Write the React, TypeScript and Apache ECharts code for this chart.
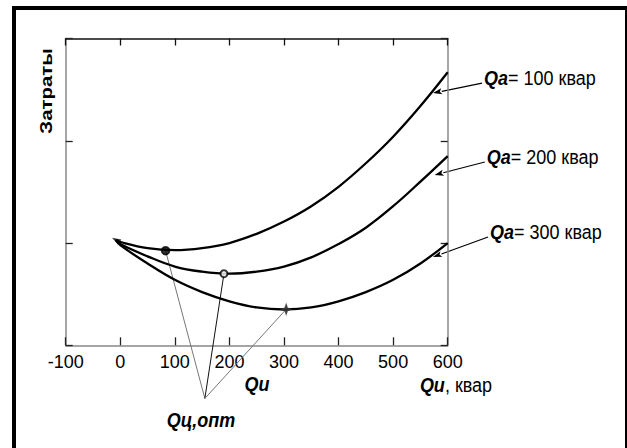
import React, { useEffect, useRef } from "react";
import * as echarts from "echarts";

// Qu values (квар) at which curves are read
const qu = [-8, 0, 50, 100, 150, 200, 250, 300, 350, 400, 450, 500, 550, 600];
// Cost curves (relative units) for Qa = 100, 200, 300 квар
const costQa100 = [1.03, 1.01, 0.95, 0.93, 0.95, 1.0, 1.09, 1.21, 1.36, 1.55, 1.78, 2.04, 2.34, 2.67];
const costQa200 = [1.03, 0.99, 0.87, 0.77, 0.72, 0.7, 0.72, 0.77, 0.86, 0.99, 1.15, 1.36, 1.6, 1.85];
const costQa300 = [1.03, 0.98, 0.8, 0.64, 0.52, 0.43, 0.37, 0.35, 0.37, 0.43, 0.52, 0.64, 0.8, 1.0];
// Optimum points
const optQu = [83, 190, 304];
const optCost = [0.925, 0.7, 0.352];
// Apex of leader lines (label "Qц,опт")
const apex = [155, -0.52];
// Label arrows: [from, to] in data units
const arrowFrom = [
  [663, 2.564],
  [668, 1.792],
  [674, 1.059],
];
const arrowTo = [
  [573, 2.466],
  [576, 1.665],
  [573, 0.863],
];
const qaLabels = ["100", "200", "300"];
const xTickMin = -100;
const xTickMax = 600;
const xTickStep = 100;

const FONT = "'Liberation Sans', Arial, sans-serif";

export default function App() {
  const ref = useRef<HTMLDivElement>(null);
  useEffect(() => {
    document.body.style.margin = "0";
    const chart = echarts.init(ref.current!, undefined, { renderer: "svg" });
    const series: any[] = [];
    const curves = [costQa100, costQa200, costQa300];
    curves.forEach((c) => {
      series.push({
        type: "line",
        data: qu.map((x, i) => [x, c[i]]),
        smooth: 0.4,
        symbol: "none",
        lineStyle: { color: "#000", width: 2.3 },
        silent: true,
      });
    });
    const leaderColors = ["#777", "#111", "#777"];
    optQu.forEach((x, i) => {
      series.push({
        type: "line",
        data: [apex, [x, optCost[i]]],
        symbol: "none",
        clip: false,
        lineStyle: { color: leaderColors[i], width: 1 },
        silent: true,
        z: 1,
      });
    });
    const symbols = [
      { symbol: "circle", size: 8, color: "#000" },
      { symbol: "emptyCircle", size: 7, color: "#000" },
      {
        symbol: "path://M0,-5 L1.3,-1.3 L5,0 L1.3,1.3 L0,5 L-1.3,1.3 L-5,0 L-1.3,-1.3Z",
        size: 9,
        color: "#333",
      },
    ];
    optQu.forEach((x, i) => {
      series.push({
        type: "scatter",
        data: [[x, optCost[i]]],
        symbol: symbols[i].symbol,
        symbolSize: symbols[i].size,
        itemStyle: { color: symbols[i].color, borderColor: symbols[i].color, borderWidth: 1.5 },
        silent: true,
        z: 5,
      });
    });
    // start point arrow tip
    series.push({
      type: "scatter",
      data: [[qu[0], costQa100[0]]],
      symbol: "triangle",
      symbolSize: [6, 9],
      symbolRotate: 60,
      itemStyle: { color: "#000" },
      silent: true,
      z: 5,
    });

    const axisCommon = {
      type: "value",
      min: xTickMin,
      max: xTickMax,
      interval: xTickStep,
      splitLine: { show: false },
    };
    chart.setOption({
      animation: false,
      backgroundColor: "#fff",
      grid: { left: 65.7, right: 179.3, top: 38.5, bottom: 102.7 },
      xAxis: [
        {
          ...axisCommon,
          position: "bottom",
          axisLine: { show: true, onZero: false, lineStyle: { color: "#888", width: 1.5 } },
          axisTick: { show: true, inside: true, length: 8, lineStyle: { color: "#222", width: 1.3 } },
          axisLabel: { color: "#000", fontSize: 18, fontFamily: FONT, margin: 8 },
        },
        {
          ...axisCommon,
          position: "top",
          axisLine: { show: true, onZero: false, lineStyle: { color: "#111", width: 1.5 } },
          axisTick: { show: true, inside: true, length: 7, lineStyle: { color: "#111", width: 1.3 } },
          axisLabel: { show: false },
        },
      ],
      yAxis: [
        {
          type: "value",
          min: 0,
          max: 3,
          interval: 1,
          position: "left",
          splitLine: { show: false },
          axisLine: { show: true, onZero: false, lineStyle: { color: "#888", width: 1.5 } },
          axisTick: { show: true, inside: true, length: 7, lineStyle: { color: "#222", width: 1.3 } },
          axisLabel: { show: false },
        },
        {
          type: "value",
          min: 0,
          max: 3,
          interval: 1,
          position: "right",
          splitLine: { show: false },
          axisLine: { show: true, onZero: false, lineStyle: { color: "#888", width: 1.5 } },
          axisTick: { show: true, inside: true, length: 7, lineStyle: { color: "#222", width: 1.3 } },
          axisLabel: { show: false },
        },
      ],
      series,
    });

    const toPx = (p: number[]) => chart.convertToPixel({ gridIndex: 0 }, p) as number[];
    const boldRich = {
      b: { fontSize: 18, fontWeight: "bold", fontStyle: "italic", fontFamily: FONT, fill: "#000" },
    };
    const graphic: any[] = [];
    // Outer frame
    graphic.push({
      type: "rect",
      shape: { x: 14, y: 8, width: 613, height: 445 },
      style: { fill: "none", stroke: "#000", lineWidth: 4 },
      silent: true,
    });
    // Arrows
    arrowFrom.forEach((f, i) => {
      const a = toPx(f);
      const b = toPx(arrowTo[i]);
      const dx = b[0] - a[0];
      const dy = b[1] - a[1];
      const len = Math.hypot(dx, dy);
      const ux = dx / len;
      const uy = dy / len;
      const hl = 9;
      const hw = 3;
      const bx = b[0] - ux * hl;
      const by = b[1] - uy * hl;
      graphic.push({
        type: "line",
        shape: { x1: a[0], y1: a[1], x2: bx, y2: by },
        style: { stroke: "#000", lineWidth: 1.2 },
        silent: true,
      });
      graphic.push({
        type: "polygon",
        shape: {
          points: [
            [b[0], b[1]],
            [bx - uy * hw, by + ux * hw],
            [bx + ux * 2, by + uy * 2],
            [bx + uy * hw, by - ux * hw],
          ],
        },
        style: { fill: "#000" },
        silent: true,
      });
      graphic.push({
        type: "text",
        x: a[0] + 2,
        y: a[1] - 5,
        scaleY: 1.1,
        style: {
          text: "{b|Qa}= " + qaLabels[i] + " квар",
          font: `18px ${FONT}`,
          fill: "#000",
          align: "left",
          verticalAlign: "middle",
          rich: boldRich,
        },
        silent: true,
      });
    });
    // Axis titles and annotations
    graphic.push({
      type: "text",
      x: 46,
      y: 91,
      rotation: Math.PI / 2,
      scaleX: 1.2,
      style: {
        text: "Затраты",
        font: `bold 17px ${FONT}`,
        fill: "#000",
        align: "center",
        verticalAlign: "middle",
      },
      silent: true,
    });
    graphic.push({
      type: "text",
      x: 257,
      y: 384,
      scaleY: 1.1,
      style: {
        text: "Qu",
        font: `italic bold 18px ${FONT}`,
        fill: "#000",
        align: "center",
        verticalAlign: "middle",
      },
      silent: true,
    });
    graphic.push({
      type: "text",
      x: 456,
      y: 385,
      scaleY: 1.1,
      style: {
        text: "{b|Qu}, квар",
        font: `18px ${FONT}`,
        fill: "#000",
        align: "center",
        verticalAlign: "middle",
        rich: boldRich,
      },
      silent: true,
    });
    graphic.push({
      type: "text",
      x: 201,
      y: 420,
      scaleY: 1.1,
      style: {
        text: "Qц,опт",
        font: `italic bold 18px ${FONT}`,
        fill: "#000",
        align: "center",
        verticalAlign: "middle",
      },
      silent: true,
    });
    chart.setOption({ graphic });
    return () => chart.dispose();
  }, []);
  return <div ref={ref} style={{ width: 627, height: 448 }} />;
}
